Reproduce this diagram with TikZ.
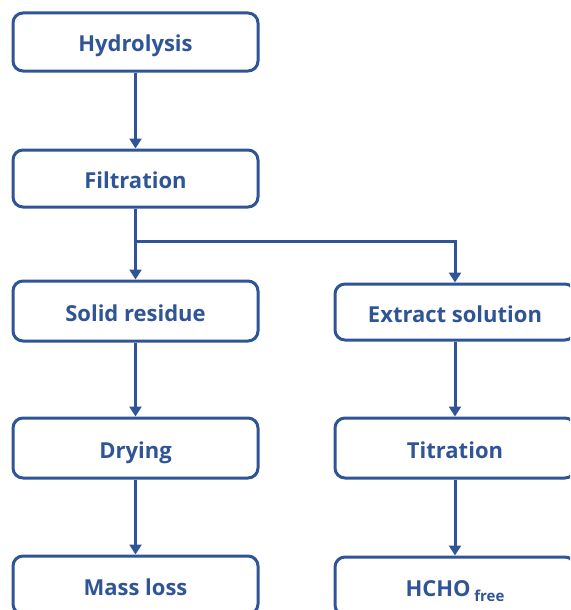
\documentclass[tikz,border=0pt]{standalone}
\usepackage{fontspec}
\setmainfont{Open Sans}
\usetikzlibrary{arrows.meta}
\definecolor{flowblue}{RGB}{47,85,151}

\begin{document}
\begin{tikzpicture}[x=1pt, y=-1pt,
		stage/.style={draw=flowblue, line width=3pt, rounded corners=10pt, fill=white,
			text=flowblue, font=\fontsize{22}{26}\selectfont\bfseries, align=center,
			minimum height=58pt, inner sep=0pt, text height=20pt, text depth=0pt},
		leftbox/.style={stage, minimum width=245pt},
		rightbox/.style={stage, minimum width=240pt},
		conn/.style={draw=flowblue, line width=3pt, -{Triangle[width=12pt,length=10pt]}}]
		%%%%% START %%%%%
		
		\useasboundingbox (0, 0) rectangle (570, 610);
		\clip (0, 0) rectangle (570, 610);
		
		\node[leftbox] (hyd) at (135.5, 42) {Hydrolysis};
		\node[leftbox, minimum height=57pt] (fil) at (135.5, 178.5) {Filtration};
		\node[leftbox, minimum height=60pt] (sol) at (135.5, 311) {Solid residue};
		\node[leftbox, minimum height=60pt] (dry) at (135.5, 448) {Drying};
		\node[leftbox] (mass) at (135.5, 585) {Mass loss};
		
		\node[rightbox, minimum height=56pt] (ext) at (455, 312) {Extract solution};
		\node[rightbox, minimum height=60pt] (tit) at (455, 448) {Titration};
		\node[rightbox] (hcho) at (455, 586) {HCHO\,\raisebox{-5pt}{\fontsize{15}{15}\selectfont free}};
		
		\coordinate (split) at (135.5, 241);
		
		\draw[conn] (hyd) -- (fil);
		\draw[conn] (fil) -- (sol);
		\draw[conn] (split) -| (ext);
		\draw[conn] (sol) -- (dry);
		\draw[conn] (dry) -- (mass);
		\draw[conn] (ext) -- (tit);
		\draw[conn] (tit) -- (hcho);
		
		%%%%% END %%%%%
	\end{tikzpicture}
\end{document}
